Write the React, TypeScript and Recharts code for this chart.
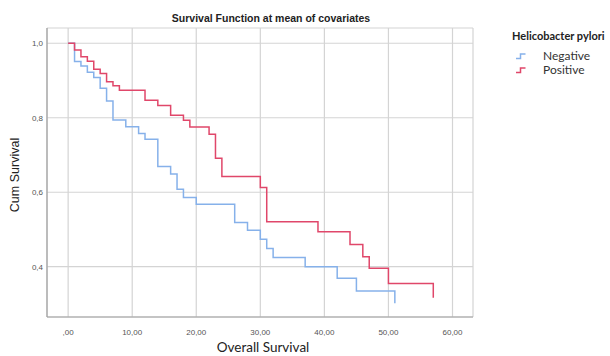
import React from 'react';
import { ComposedChart, Line, XAxis, YAxis, CartesianGrid } from 'recharts';

const negativeTimes = [0, 1, 2, 3, 4, 5, 6, 7, 9, 11, 12, 14, 16, 17, 18, 20, 26, 28, 30, 31, 32, 37, 42, 45, 51];
const negativeSurvival = [1.0, 0.951, 0.939, 0.922, 0.908, 0.879, 0.845, 0.794, 0.776, 0.758, 0.742, 0.669, 0.649, 0.608, 0.586, 0.568, 0.519, 0.498, 0.474, 0.449, 0.425, 0.4, 0.369, 0.335, 0.302];

const positiveTimes = [0, 1, 2, 3, 4, 5, 6, 7, 8, 12, 14, 16, 18, 19, 22, 23, 24, 30, 31, 39, 44, 46, 47, 50, 57];
const positiveSurvival = [1.0, 0.982, 0.964, 0.952, 0.93, 0.919, 0.897, 0.886, 0.874, 0.847, 0.833, 0.807, 0.793, 0.775, 0.756, 0.691, 0.642, 0.613, 0.521, 0.494, 0.46, 0.427, 0.396, 0.355, 0.317];

const seriesNames = ['Negative', 'Positive'];
const legendTitle = 'Helicobacter pylori';
const chartTitle = 'Survival Function at mean of covariates';
const xAxisTitle = 'Overall Survival';
const yAxisTitle = 'Cum Survival';
const xTicks = [0, 10, 20, 30, 40, 50, 60];
const yTicks = [0.4, 0.6, 0.8, 1.0];

const BLUE = '#86b1ea';
const RED = '#e0476a';

const negData = negativeTimes.map((t, i) => ({ t, s: negativeSurvival[i] }));
const posData = positiveTimes.map((t, i) => ({ t, s: positiveSurvival[i] }));

const fmtX = (v: number) => (v === 0 ? ',00' : `${v},00`);
const fmtY = (v: number) => v.toFixed(1).replace('.', ',');

const StepIcon = ({ color }: { color: string }) => (
  <svg width={12} height={8} style={{ display: 'block' }}>
    <path d="M1,6.5 H5.5 V2 H10.5" fill="none" stroke={color} strokeWidth={1.5} />
  </svg>
);

export default function App() {
  return (
    <div style={{ position: 'absolute', left: 0, top: 0, width: 610, height: 356, background: '#fff', overflow: 'hidden' }}>
      <ComposedChart width={610} height={356} margin={{ top: 28, right: 137, left: 0, bottom: 0 }}>
        <CartesianGrid stroke="#d4d4d4" strokeWidth={1.2} />
        <XAxis
          type="number"
          dataKey="t"
          domain={[-3.3, 63.2]}
          allowDataOverflow
          ticks={xTicks}
          tickFormatter={fmtX}
          height={39}
          tickLine={false}
          tickSize={10}
          tickMargin={2}
          axisLine={{ stroke: '#a0a0a0', strokeWidth: 1.2 }}
          tick={{ fontSize: 8, fill: '#555', fontFamily: 'Liberation Sans' }}
        />
        <YAxis
          type="number"
          domain={[0.265, 1.041]}
          allowDataOverflow
          ticks={yTicks}
          tickFormatter={fmtY}
          width={47}
          tickLine={false}
          tickSize={2}
          tickMargin={2}
          axisLine={{ stroke: '#a0a0a0', strokeWidth: 1.2 }}
          tick={{ fontSize: 8, fill: '#555', fontFamily: 'Liberation Sans' }}
        />
        <Line data={negData} dataKey="s" name={seriesNames[0]} type="stepAfter" stroke={BLUE} strokeWidth={1.5} dot={false} activeDot={false} isAnimationActive={false} />
        <Line data={posData} dataKey="s" name={seriesNames[1]} type="stepAfter" stroke={RED} strokeWidth={1.5} dot={false} activeDot={false} isAnimationActive={false} />
      </ComposedChart>

      <div style={{ position: 'absolute', left: 0, width: 542, top: 11, textAlign: 'center', fontFamily: 'Liberation Sans', fontWeight: 'bold', fontSize: 10.5, color: '#222', lineHeight: '14px' }}>
        {chartTitle}
      </div>

      <div style={{ position: 'absolute', left: 15, top: 175, transform: 'translate(-50%, -50%) rotate(-90deg)', whiteSpace: 'nowrap', fontFamily: 'Liberation Sans', fontSize: 12.5, color: '#222', lineHeight: '14px' }}>
        {yAxisTitle}
      </div>

      <div style={{ position: 'absolute', left: 263, top: 347, transform: 'translate(-50%, -50%)', whiteSpace: 'nowrap', fontFamily: 'Lato', fontSize: 13.5, color: '#222', lineHeight: '16px' }}>
        {xAxisTitle}
      </div>

      <div style={{ position: 'absolute', left: 512, top: 29, fontFamily: 'Lato', color: '#222', whiteSpace: 'nowrap' }}>
        <div style={{ fontWeight: 'bold', fontSize: 11, lineHeight: '14px' }}>{legendTitle}</div>
        <div style={{ display: 'flex', alignItems: 'center', marginTop: 6, marginLeft: 3, height: 14 }}>
          <StepIcon color={BLUE} />
          <span style={{ marginLeft: 16, fontSize: 12, lineHeight: '14px', color: '#333' }}>{seriesNames[0]}</span>
        </div>
        <div style={{ display: 'flex', alignItems: 'center', marginLeft: 3, height: 14 }}>
          <StepIcon color={RED} />
          <span style={{ marginLeft: 16, fontSize: 12, lineHeight: '14px', color: '#333' }}>{seriesNames[1]}</span>
        </div>
      </div>
    </div>
  );
}
